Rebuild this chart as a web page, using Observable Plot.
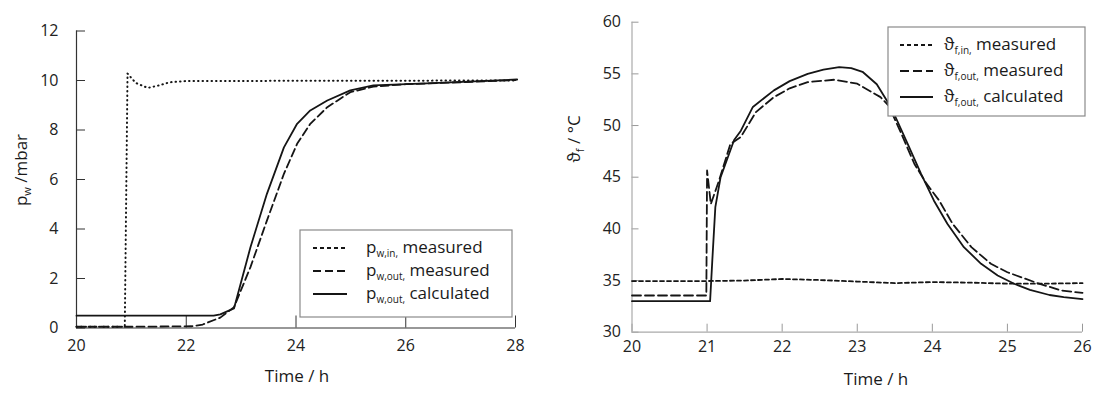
<!DOCTYPE html>
<html><head><meta charset="utf-8">
<script src="https://cdn.jsdelivr.net/npm/d3@7"></script>
<script src="https://cdn.jsdelivr.net/npm/@observablehq/plot@0.6"></script>
<style>
body{margin:0;background:#fff;}
#wrap{position:relative;width:1094px;height:397px;overflow:hidden;font-family:"Open Sans",sans-serif;}
#left,#right{position:absolute;top:0;}
#left{left:0;} #right{left:540px;}
</style></head><body><div id="wrap"><div id="left"></div><div id="right"></div></div>
<script>
// ---------- Left chart: water pressure ----------
const leftXTicks = [20, 22, 24, 26, 28];
const leftYTicks = [0, 2, 4, 6, 8, 10, 12];
const leftXTitle = "Time / h";
const pwInT = [20, 20.88, 20.93, 21.08, 21.3, 21.5, 21.7, 22.0, 28];
const pwInV = [0.05, 0.05, 10.28, 9.9, 9.7, 9.8, 9.93, 9.98, 10.0];
const pwOutMeasT = [20, 21, 22.1, 22.3, 22.62, 22.87, 23.17, 23.47, 23.78, 24.02, 24.26, 24.57, 24.99, 25.41, 26, 27, 28];
const pwOutMeasV = [0.05, 0.05, 0.07, 0.14, 0.42, 0.84, 2.46, 4.34, 6.23, 7.44, 8.25, 8.92, 9.53, 9.75, 9.85, 9.93, 10.02];
const pwOutCalcT = [20, 22.5, 22.62, 22.87, 23.17, 23.47, 23.78, 24.02, 24.26, 24.57, 24.99, 25.41, 26.5, 28.03];
const pwOutCalcV = [0.5, 0.5, 0.55, 0.79, 3.26, 5.42, 7.3, 8.25, 8.79, 9.19, 9.6, 9.8, 9.89, 10.04];

// ---------- Right chart: fluid temperature ----------
const rightXTicks = [20, 21, 22, 23, 24, 25, 26];
const rightYTicks = [30, 35, 40, 45, 50, 55, 60];
const rightXTitle = "Time / h";
const tfInT = [20, 21, 21.5, 22, 22.5, 23, 23.5, 24, 24.5, 25, 25.5, 26];
const tfInV = [34.95, 34.95, 35.0, 35.15, 35.05, 34.9, 34.75, 34.85, 34.8, 34.7, 34.7, 34.75];
const tfOutMeasT = [20, 20.99, 21.0, 21.05, 21.16, 21.31, 21.45, 21.65, 21.89, 22.1, 22.34, 22.69, 23.0, 23.31, 23.42, 23.6, 23.76, 23.92, 24.09, 24.27, 24.52, 24.78, 25.0, 25.4, 25.71, 26];
const tfOutMeasV = [33.55, 33.55, 45.65, 42.4, 44.7, 48.2, 48.9, 51.3, 52.75, 53.6, 54.2, 54.43, 54.05, 52.75, 51.9, 49.0, 46.3, 44.4, 42.75, 40.49, 38.23, 36.62, 35.8, 34.75, 34.05, 33.8];
const tfOutCalcT = [20, 21.04, 21.07, 21.11, 21.18, 21.36, 21.45, 21.61, 21.89, 22.1, 22.34, 22.55, 22.76, 22.92, 23.07, 23.26, 23.42, 23.49, 23.67, 23.85, 24.02, 24.2, 24.42, 24.65, 24.87, 25.09, 25.3, 25.56, 25.75, 26];
const tfOutCalcV = [33.0, 33.0, 37.0, 42.1, 45.0, 48.6, 49.5, 51.8, 53.4, 54.3, 55.0, 55.4, 55.65, 55.55, 55.2, 54.0, 52.1, 51.14, 48.24, 45.33, 42.75, 40.49, 38.23, 36.62, 35.49, 34.69, 34.1, 33.6, 33.4, 33.2];

const zip = (T, V) => T.map((t, i) => ({t, v: V[i]}));
const ink = "#151515";
const font = '"Open Sans", sans-serif';

// ---------- Left plot ----------
const L = Plot.plot({
  width: 540, height: 397,
  marginLeft: 76, marginRight: 25, marginTop: 30.5, marginBottom: 69.5,
  style: {fontFamily: font, fontSize: "16px", color: "#222", background: "transparent", overflow: "visible"},
  x: {domain: [20, 28]},
  y: {domain: [0, 12]},
  marks: [
    Plot.axisX({ticks: leftXTicks, tickSize: 0, tickPadding: 12, label: null, tickFormat: d => String(d)}),
    Plot.axisX({ticks: leftXTicks, tickSize: -12, text: null, label: null, stroke: "#333"}),
    Plot.axisY({ticks: leftYTicks, tickSize: 0, tickPadding: 18, label: null, tickFormat: d => String(d)}),
    Plot.axisY({ticks: leftYTicks, tickSize: -9, text: null, label: null, stroke: "#333"}),
    Plot.ruleX([20], {stroke: "#333", strokeWidth: 1.2}),
    Plot.ruleY([0], {stroke: "#333", strokeWidth: 1.2}),
    Plot.line(zip(pwInT, pwInV), {x: "t", y: "v", stroke: ink, strokeWidth: 2, strokeDasharray: "0.5,4", strokeLinecap: "round", clip: false}),
    Plot.line(zip(pwOutMeasT, pwOutMeasV), {x: "t", y: "v", stroke: ink, strokeWidth: 1.8, strokeDasharray: "8,4"}),
    Plot.line(zip(pwOutCalcT, pwOutCalcV), {x: "t", y: "v", stroke: ink, strokeWidth: 1.8})
  ]
});
document.getElementById("left").appendChild(L);

// ---------- Right plot ----------
const R = Plot.plot({
  width: 554, height: 397,
  marginLeft: 91.5, marginRight: 12, marginTop: 21.7, marginBottom: 65.3,
  style: {fontFamily: font, fontSize: "16px", color: "#222", background: "transparent", overflow: "visible"},
  x: {domain: [20, 26]},
  y: {domain: [30, 60]},
  marks: [
    Plot.axisX({ticks: rightXTicks, tickSize: 0, tickPadding: 8, label: null, tickFormat: d => String(d)}),
    Plot.axisX({ticks: rightXTicks, tickSize: -8, text: null, label: null, stroke: "#999"}),
    Plot.axisY({ticks: rightYTicks, tickSize: 0, tickPadding: 11, label: null, tickFormat: d => String(d)}),
    Plot.axisY({ticks: rightYTicks, tickSize: -7, text: null, label: null, stroke: "#999"}),
    Plot.ruleX([20], {stroke: "#aaa", strokeWidth: 1.2}),
    Plot.ruleY([30], {stroke: "#aaa", strokeWidth: 1.2}),
    Plot.line(zip(tfInT, tfInV), {x: "t", y: "v", stroke: ink, strokeWidth: 1.8, strokeDasharray: "4,3"}),
    Plot.line(zip(tfOutMeasT, tfOutMeasV), {x: "t", y: "v", stroke: ink, strokeWidth: 1.8, strokeDasharray: "9,4"}),
    Plot.line(zip(tfOutCalcT, tfOutCalcV), {x: "t", y: "v", stroke: ink, strokeWidth: 1.8})
  ]
});
document.getElementById("right").appendChild(R);

// ---------- text helpers ----------
function richText(g, parts, attrs, subSize) {
  const t = g.append("text").attr("font-family", font).attr("fill", "#1a1a1a").attr("text-anchor", "start");
  for (const k in attrs) t.attr(k, attrs[k]);
  for (const p of parts) {
    const s = t.append("tspan").text(p.text);
    if (p.sub) s.attr("font-size", (subSize || 11) + "px").attr("dy", "4");
    if (p.up) s.attr("dy", "-4");
  }
  return t;
}

// axis titles
const gL = d3.select(L);
richText(gL, [{text: leftXTitle}], {x: 297, y: 382, "text-anchor": "middle", "font-size": "17px"});
richText(gL, [{text: "p"}, {text: "w", sub: true}, {text: " /mbar", up: true}],
  {transform: "translate(27,170) rotate(-90)", "text-anchor": "middle", "font-size": "17px"});

const gR = d3.select(R);
richText(gR, [{text: rightXTitle}], {x: 336, y: 385, "text-anchor": "middle", "font-size": "17px"});
richText(gR, [{text: "ϑ"}, {text: "f", sub: true}, {text: " / °C", up: true}],
  {transform: "translate(40,139) rotate(-90)", "text-anchor": "middle", "font-size": "17px"});

// legends
function legend(g, box, rows) {
  const lg = g.append("g");
  lg.append("rect").attr("x", box.x).attr("y", box.y).attr("width", box.w).attr("height", box.h)
    .attr("fill", "#fff").attr("stroke", "#8a8a8a").attr("stroke-width", 1.2);
  rows.forEach((r, i) => {
    const y = box.rowY[i];
    lg.append("line").attr("x1", box.sx1).attr("x2", box.sx2).attr("y1", y).attr("y2", y)
      .attr("stroke", ink).attr("stroke-width", 1.8).attr("stroke-dasharray", r.dash);
    richText(lg, [{text: r.sym}, {text: r.sub + ",", sub: true}, {text: " " + r.label, up: true}],
      {x: box.tx, y: y + 5, "font-size": "17px", "text-anchor": "start"}, 10);
  });
}
legend(gL, {x: 300, y: 230, w: 212, h: 87, rowY: [248, 271, 294], sx1: 313, sx2: 347, tx: 366}, [
  {dash: "4,3", sym: "p", sub: "w,in", label: "measured"},
  {dash: "8,4", sym: "p", sub: "w,out", label: "measured"},
  {dash: null, sym: "p", sub: "w,out", label: "calculated"}
]);
legend(gR, {x: 348, y: 27, w: 197, h: 89, rowY: [45, 71, 97], sx1: 360, sx2: 393, tx: 404}, [
  {dash: "4,3", sym: "ϑ", sub: "f,in", label: "measured"},
  {dash: "9,4", sym: "ϑ", sub: "f,out", label: "measured"},
  {dash: null, sym: "ϑ", sub: "f,out", label: "calculated"}
]);
</script></body></html>
